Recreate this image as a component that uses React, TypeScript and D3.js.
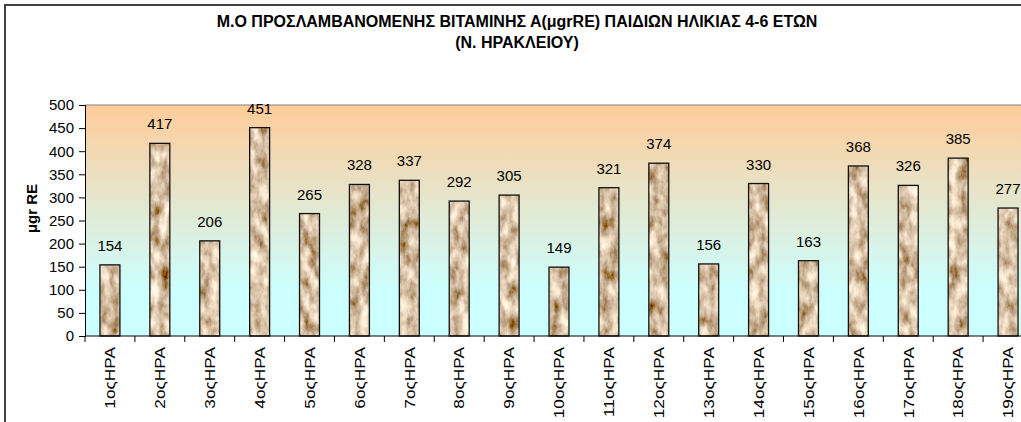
import React, { useEffect, useRef } from 'react';
import * as d3 from 'd3';

// Chart data
const categories = [
  '1οςΗΡΑ', '2οςΗΡΑ', '3οςΗΡΑ', '4οςΗΡΑ', '5οςΗΡΑ', '6οςΗΡΑ', '7οςΗΡΑ', '8οςΗΡΑ', '9οςΗΡΑ', '10οςΗΡΑ',
  '11οςΗΡΑ', '12οςΗΡΑ', '13οςΗΡΑ', '14οςΗΡΑ', '15οςΗΡΑ', '16οςΗΡΑ', '17οςΗΡΑ', '18οςΗΡΑ', '19οςΗΡΑ',
];
const values = [154, 417, 206, 451, 265, 328, 337, 292, 305, 149, 321, 374, 156, 330, 163, 368, 326, 385, 277];
const yTicks = [0, 50, 100, 150, 200, 250, 300, 350, 400, 450, 500];
const titleLines = [
  'Μ.Ο ΠΡΟΣΛΑΜΒΑΝΟΜΕΝΗΣ ΒΙΤΑΜΙΝΗΣ Α(μgrRE) ΠΑΙΔΙΩΝ ΗΛΙΚΙΑΣ 4-6 ΕΤΩΝ',
  '(Ν. ΗΡΑΚΛΕΙΟΥ)',
];
const yAxisTitle = 'μgr RE';

const W = 1021;
const H = 422;
const FONT = 'Arial, "Liberation Sans", sans-serif';

const App = () => {
  const svgRef = useRef<SVGSVGElement>(null);

  useEffect(() => {
    const svg = d3.select(svgRef.current);
    svg.selectAll('*').remove();

    const plot = { left: 85, top: 105, right: 1033, bottom: 336 };

    const defs = svg.append('defs');

    // plot background gradient (orange -> light cyan)
    const grad = defs.append('linearGradient')
      .attr('id', 'bgGrad')
      .attr('x1', 0).attr('y1', 0).attr('x2', 0).attr('y2', 1);
    grad.append('stop').attr('offset', '0%').attr('stop-color', '#FFCC99');
    grad.append('stop').attr('offset', '80%').attr('stop-color', '#CCFFFF');
    grad.append('stop').attr('offset', '100%').attr('stop-color', '#CCFFFF');

    // stone-like texture for the bars
    const filter = defs.append('filter')
      .attr('id', 'stone')
      .attr('x', 0).attr('y', 0).attr('width', 1).attr('height', 1);
    filter.append('feTurbulence')
      .attr('type', 'fractalNoise')
      .attr('baseFrequency', '0.1 0.06')
      .attr('numOctaves', 4)
      .attr('seed', 3)
      .attr('result', 'noise');
    filter.append('feColorMatrix')
      .attr('in', 'noise')
      .attr('type', 'matrix')
      .attr('values', '1.3 0 0 0 0.03  1.3 0 0 0 -0.12  1.2 0 0 0 -0.22  0 0 0 0 1')
      .attr('result', 'tint');
    filter.append('feComposite')
      .attr('in', 'tint')
      .attr('in2', 'SourceGraphic')
      .attr('operator', 'in');

    // outer chart border
    svg.append('rect')
      .attr('x', 5).attr('y', 5)
      .attr('width', W + 20).attr('height', H + 20)
      .attr('fill', '#fff')
      .attr('stroke', '#404040')
      .attr('stroke-width', 2);

    // Scales
    const x = d3.scaleBand<string>()
      .domain(categories)
      .range([plot.left, plot.right])
      .paddingInner(0.6)
      .paddingOuter(0.3);

    const y = d3.scaleLinear()
      .domain([0, 500])
      .range([plot.bottom, plot.top]);

    // plot area
    svg.append('rect')
      .attr('x', plot.left).attr('y', plot.top)
      .attr('width', plot.right - plot.left)
      .attr('height', plot.bottom - plot.top)
      .attr('fill', 'url(#bgGrad)');
    svg.append('line')
      .attr('x1', plot.left).attr('x2', plot.right)
      .attr('y1', plot.top).attr('y2', plot.top)
      .attr('stroke', '#808080').attr('stroke-width', 1);

    // Bars
    const bars = svg.append('g');
    bars.selectAll('rect.fill')
      .data(values)
      .enter()
      .append('rect')
      .attr('class', 'fill')
      .attr('x', (d, i) => x(categories[i])!)
      .attr('y', d => y(d))
      .attr('width', x.bandwidth())
      .attr('height', d => y(0) - y(d))
      .attr('fill', '#A07850')
      .attr('filter', 'url(#stone)');
    bars.selectAll('rect.edge')
      .data(values)
      .enter()
      .append('rect')
      .attr('class', 'edge')
      .attr('x', (d, i) => x(categories[i])!)
      .attr('y', d => y(d))
      .attr('width', x.bandwidth())
      .attr('height', d => y(0) - y(d))
      .attr('fill', 'none')
      .attr('stroke', '#111')
      .attr('stroke-width', 1.3);

    // value labels
    svg.append('g')
      .selectAll('text')
      .data(values)
      .enter()
      .append('text')
      .attr('x', (d, i) => x(categories[i])! + x.bandwidth() / 2)
      .attr('y', d => y(d) - 14)
      .attr('text-anchor', 'middle')
      .style('font-family', FONT)
      .style('font-size', '15px')
      .style('fill', '#000')
      .text(d => d);

    // Y axis
    const yAxis = svg.append('g')
      .attr('transform', `translate(${plot.left},0)`)
      .call(d3.axisLeft(y).tickValues(yTicks).tickSize(6).tickPadding(5));
    yAxis.select('.domain').attr('stroke', '#000');
    yAxis.selectAll('line').attr('stroke', '#000');
    yAxis.selectAll('text')
      .style('font-family', FONT)
      .style('font-size', '15px')
      .style('fill', '#000');

    // X axis
    const step = x.step();
    const boundaries = categories.map((c, i) => plot.left + i * step).concat([plot.right]);
    const xAxis = svg.append('g');
    xAxis.append('line')
      .attr('x1', plot.left).attr('x2', plot.right)
      .attr('y1', plot.bottom).attr('y2', plot.bottom)
      .attr('stroke', '#000');
    xAxis.selectAll('line.tick')
      .data(boundaries)
      .enter()
      .append('line')
      .attr('class', 'tick')
      .attr('x1', d => d).attr('x2', d => d)
      .attr('y1', plot.bottom).attr('y2', plot.bottom + 6)
      .attr('stroke', '#000');
    xAxis.selectAll('text')
      .data(categories)
      .enter()
      .append('text')
      .attr('transform', d => `translate(${x(d)! + x.bandwidth() / 2},${plot.bottom + 11}) rotate(-90) scale(1.15,1)`)
      .attr('text-anchor', 'end')
      .attr('dy', '0.35em')
      .style('font-family', FONT)
      .style('font-size', '15px')
      .style('fill', '#000')
      .text(d => d);

    // Y axis title
    svg.append('text')
      .attr('transform', `translate(37,${(plot.top + plot.bottom) / 2 - 12}) rotate(-90)`)
      .attr('text-anchor', 'middle')
      .style('font-family', FONT)
      .style('font-size', '15px')
      .style('font-weight', 'bold')
      .style('fill', '#000')
      .text(yAxisTitle);

    // Title
    svg.append('g')
      .selectAll('text')
      .data(titleLines)
      .enter()
      .append('text')
      .attr('x', 517)
      .attr('y', (d, i) => 27 + i * 21)
      .attr('text-anchor', 'middle')
      .style('font-family', FONT)
      .style('font-size', '16px')
      .style('font-weight', 'bold')
      .style('fill', '#000')
      .text(d => d);
  }, []);

  return (
    <div style={{ position: 'fixed', left: 0, top: 0, width: W, height: H, overflow: 'hidden', background: '#fff' }}>
      <svg ref={svgRef} width={W} height={H} style={{ display: 'block' }}></svg>
    </div>
  );
};

export default App;
